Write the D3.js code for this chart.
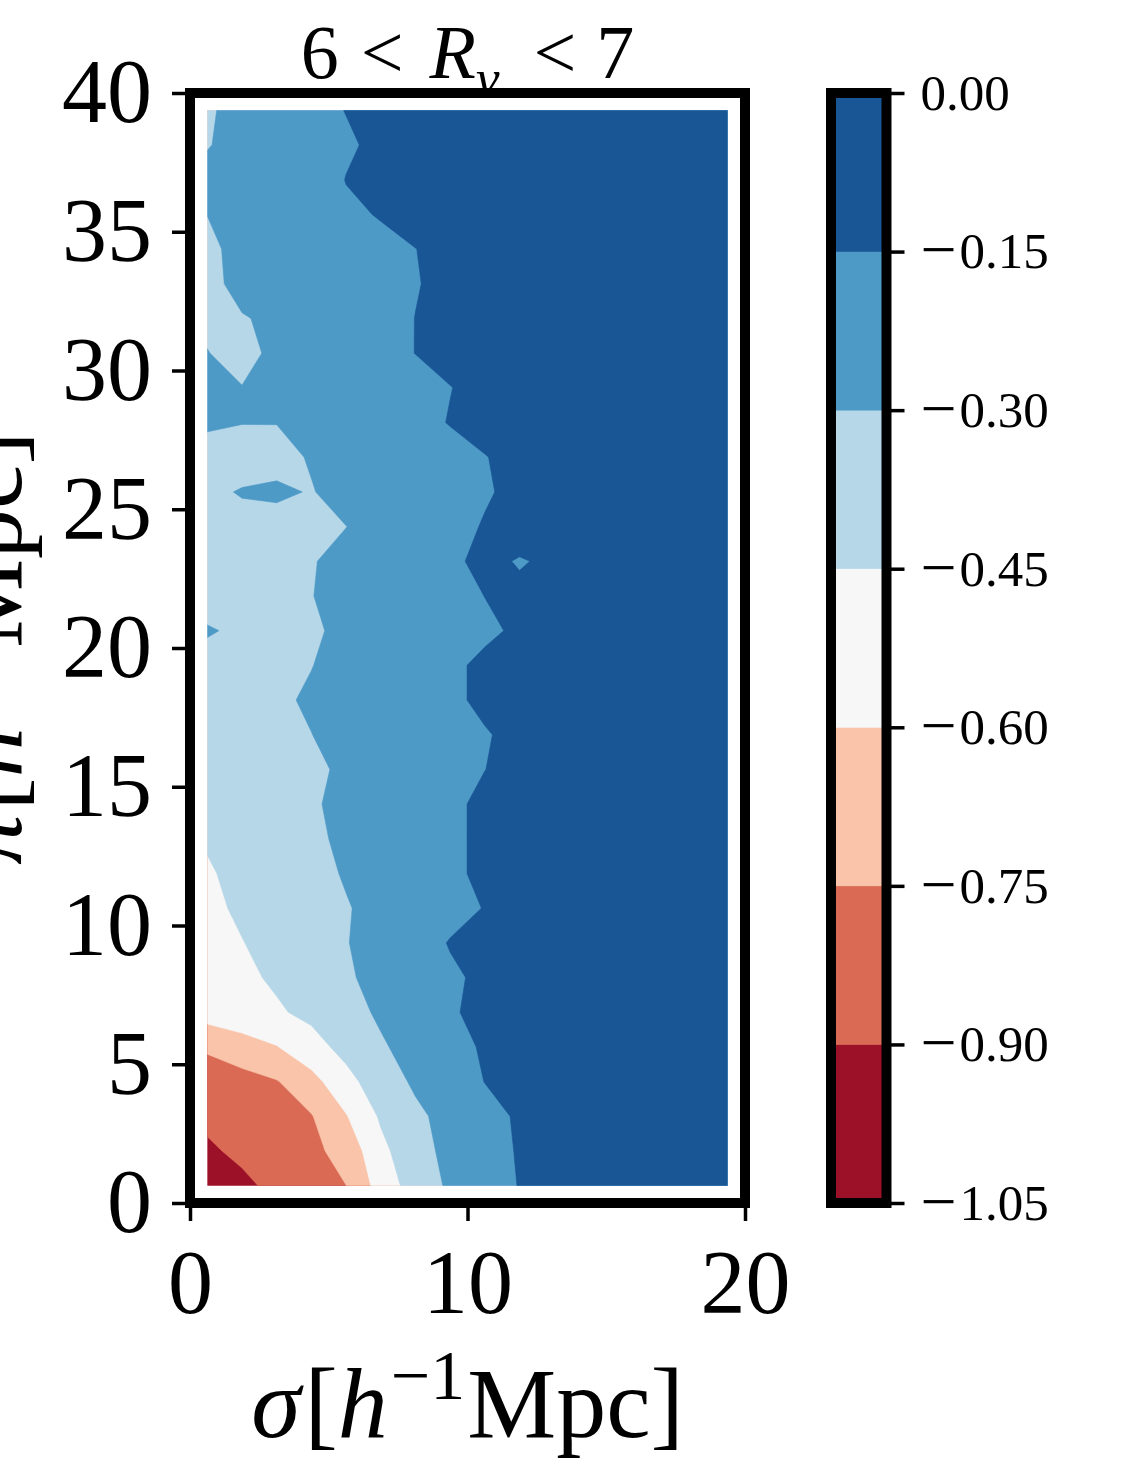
<!DOCTYPE html>
<html>
<head>
<meta charset="utf-8">
<script src="https://cdn.jsdelivr.net/npm/d3@7"></script>
<style>
  html, body { margin: 0; padding: 0; background: #ffffff; }
  svg { display: block; }
  text { font-family: "Liberation Serif", "DejaVu Serif", serif; fill: #000; }
</style>
</head>
<body>
<svg id="chart" width="1122" height="1461"></svg>
<script>
// Bin centres of the (sigma, pi) grid, in h^-1 Mpc
const sigmaCentres = [0.625, 1.875, 3.125, 4.375, 5.625, 6.875, 8.125, 9.375,
                      10.625, 11.875, 13.125, 14.375, 15.625, 16.875, 18.125, 19.375];
const piCentres = [0.625, 1.875, 3.125, 4.375, 5.625, 6.875, 8.125, 9.375,
                   10.625, 11.875, 13.125, 14.375, 15.625, 16.875, 18.125, 19.375,
                   20.625, 21.875, 23.125, 24.375, 25.625, 26.875, 28.125, 29.375,
                   30.625, 31.875, 33.125, 34.375, 35.625, 36.875, 38.125, 39.375];

// Filled-contour levels and tick values
const levels = [-1.05, -0.90, -0.75, -0.60, -0.45, -0.30, -0.15, 0.00];
const xTicks = [0, 10, 20];
const yTicks = [0, 5, 10, 15, 20, 25, 30, 35, 40];

// Profile values, one row per pi bin (bottom to top), one entry per sigma bin
const xiRows = [
  [-0.990,-0.927,-0.868,-0.809,-0.751,-0.539,-0.382,-0.278,-0.212,-0.145,-0.120,-0.100,-0.080,-0.060,-0.050,-0.040],
  [-0.919,-0.874,-0.829,-0.784,-0.698,-0.488,-0.351,-0.263,-0.200,-0.140,-0.115,-0.095,-0.075,-0.060,-0.050,-0.040],
  [-0.873,-0.835,-0.797,-0.758,-0.609,-0.432,-0.328,-0.254,-0.190,-0.135,-0.110,-0.090,-0.070,-0.055,-0.045,-0.035],
  [-0.848,-0.803,-0.758,-0.650,-0.496,-0.371,-0.279,-0.215,-0.148,-0.125,-0.105,-0.085,-0.070,-0.055,-0.045,-0.035],
  [-0.724,-0.665,-0.606,-0.504,-0.405,-0.315,-0.252,-0.195,-0.135,-0.115,-0.095,-0.080,-0.065,-0.050,-0.040,-0.030],
  [-0.536,-0.502,-0.467,-0.416,-0.347,-0.281,-0.221,-0.160,-0.125,-0.105,-0.090,-0.075,-0.060,-0.050,-0.040,-0.030],
  [-0.520,-0.478,-0.430,-0.372,-0.315,-0.264,-0.215,-0.166,-0.130,-0.110,-0.095,-0.080,-0.065,-0.050,-0.040,-0.030],
  [-0.500,-0.454,-0.405,-0.355,-0.305,-0.252,-0.198,-0.144,-0.120,-0.100,-0.085,-0.070,-0.060,-0.050,-0.040,-0.030],
  [-0.480,-0.429,-0.388,-0.348,-0.307,-0.267,-0.226,-0.186,-0.146,-0.120,-0.100,-0.085,-0.070,-0.055,-0.045,-0.035],
  [-0.461,-0.421,-0.377,-0.334,-0.291,-0.250,-0.210,-0.169,-0.130,-0.110,-0.095,-0.080,-0.065,-0.055,-0.045,-0.035],
  [-0.440,-0.400,-0.360,-0.319,-0.281,-0.243,-0.206,-0.169,-0.130,-0.110,-0.095,-0.080,-0.065,-0.055,-0.045,-0.035],
  [-0.420,-0.384,-0.347,-0.311,-0.275,-0.240,-0.204,-0.169,-0.130,-0.110,-0.095,-0.080,-0.065,-0.055,-0.045,-0.035],
  [-0.400,-0.372,-0.344,-0.316,-0.286,-0.252,-0.218,-0.185,-0.151,-0.120,-0.100,-0.085,-0.070,-0.055,-0.045,-0.035],
  [-0.380,-0.354,-0.327,-0.301,-0.272,-0.243,-0.215,-0.186,-0.157,-0.125,-0.105,-0.090,-0.075,-0.060,-0.045,-0.035],
  [-0.360,-0.337,-0.314,-0.289,-0.259,-0.229,-0.199,-0.169,-0.130,-0.110,-0.095,-0.080,-0.065,-0.050,-0.040,-0.030],
  [-0.340,-0.327,-0.315,-0.302,-0.271,-0.237,-0.203,-0.169,-0.130,-0.110,-0.095,-0.080,-0.065,-0.050,-0.040,-0.030],
  [-0.290,-0.320,-0.320,-0.310,-0.284,-0.255,-0.226,-0.197,-0.168,-0.135,-0.115,-0.095,-0.080,-0.065,-0.050,-0.040],
  [-0.350,-0.334,-0.318,-0.302,-0.274,-0.245,-0.216,-0.187,-0.149,-0.136,-0.105,-0.090,-0.075,-0.060,-0.045,-0.035],
  [-0.350,-0.335,-0.320,-0.305,-0.276,-0.238,-0.200,-0.163,-0.133,-0.155,-0.138,-0.110,-0.090,-0.070,-0.055,-0.045],
  [-0.360,-0.345,-0.331,-0.316,-0.301,-0.263,-0.223,-0.183,-0.143,-0.117,-0.100,-0.085,-0.070,-0.055,-0.045,-0.035],
  [-0.330,-0.290,-0.286,-0.305,-0.265,-0.246,-0.217,-0.188,-0.160,-0.125,-0.105,-0.090,-0.075,-0.060,-0.045,-0.035],
  [-0.330,-0.370,-0.330,-0.292,-0.266,-0.238,-0.209,-0.181,-0.153,-0.125,-0.105,-0.090,-0.075,-0.060,-0.045,-0.035],
  [-0.289,-0.296,-0.298,-0.268,-0.237,-0.207,-0.177,-0.146,-0.120,-0.100,-0.085,-0.070,-0.060,-0.050,-0.040,-0.030],
  [-0.280,-0.295,-0.285,-0.258,-0.232,-0.205,-0.178,-0.152,-0.125,-0.105,-0.090,-0.075,-0.060,-0.050,-0.040,-0.030],
  [-0.295,-0.361,-0.254,-0.228,-0.202,-0.176,-0.149,-0.125,-0.105,-0.090,-0.075,-0.065,-0.055,-0.045,-0.035,-0.030],
  [-0.335,-0.308,-0.277,-0.245,-0.213,-0.181,-0.149,-0.125,-0.105,-0.090,-0.075,-0.065,-0.055,-0.045,-0.035,-0.030],
  [-0.338,-0.260,-0.239,-0.218,-0.197,-0.175,-0.154,-0.130,-0.110,-0.095,-0.080,-0.065,-0.055,-0.045,-0.035,-0.030],
  [-0.321,-0.270,-0.246,-0.222,-0.198,-0.174,-0.151,-0.125,-0.105,-0.090,-0.075,-0.065,-0.055,-0.045,-0.035,-0.030],
  [-0.299,-0.268,-0.236,-0.205,-0.168,-0.144,-0.120,-0.100,-0.090,-0.075,-0.065,-0.055,-0.045,-0.040,-0.035,-0.030],
  [-0.272,-0.250,-0.235,-0.217,-0.147,-0.148,-0.105,-0.090,-0.080,-0.070,-0.060,-0.050,-0.045,-0.040,-0.035,-0.030],
  [-0.305,-0.268,-0.234,-0.200,-0.166,-0.124,-0.105,-0.090,-0.080,-0.070,-0.060,-0.050,-0.045,-0.040,-0.035,-0.030],
  [-0.310,-0.273,-0.231,-0.189,-0.147,-0.125,-0.110,-0.095,-0.085,-0.075,-0.065,-0.055,-0.045,-0.040,-0.035,-0.030]
];

// RdBu band colours, lowest band first
const bandColours = ["#9d1128", "#da6a54", "#f9c4a9", "#f7f7f7", "#b6d7e8", "#4e9ac7", "#195696"];

const svg = d3.select("#chart");
const plot = { left: 190, right: 745, top: 93, bottom: 1203 };
const cbar = { left: 831, right: 886.5 };

const x = d3.scaleLinear().domain([0, 20]).range([plot.left, plot.right]);
const y = d3.scaleLinear().domain([0, 40]).range([plot.bottom, plot.top]);

// ---- filled contours ----
const nx = sigmaCentres.length, ny = piCentres.length;
const values = xiRows.flat();
const contourGen = d3.contours().size([nx, ny]).thresholds(levels.slice(0, -1));
const bands = contourGen(values);

// contour grid coordinates -> data coordinates (cell centres sit at i + 0.5)
const gx = d3.scaleLinear().domain([0.5, nx - 0.5]).range([sigmaCentres[0], sigmaCentres[nx - 1]]);
const gy = d3.scaleLinear().domain([0.5, ny - 0.5]).range([piCentres[0], piCentres[ny - 1]]);
const toScreen = d3.geoTransform({
  point(px, py) { this.stream.point(x(gx(px)), y(gy(py))); }
});
const path = d3.geoPath(toScreen);

svg.append("defs").append("clipPath").attr("id", "hull")
  .append("rect")
  .attr("x", x(sigmaCentres[0]))
  .attr("y", y(piCentres[ny - 1]))
  .attr("width", x(sigmaCentres[nx - 1]) - x(sigmaCentres[0]))
  .attr("height", y(piCentres[0]) - y(piCentres[ny - 1]));

svg.append("g").attr("clip-path", "url(#hull)")
  .selectAll("path").data(bands).join("path")
  .attr("d", path)
  .attr("fill", (d, i) => bandColours[i])
  .attr("stroke", (d, i) => bandColours[i])
  .attr("stroke-width", 0.6);

// ---- axes ----
const tickFont = 90;
const xAxis = svg.append("g").attr("transform", `translate(0,${plot.bottom})`)
  .call(d3.axisBottom(x).tickValues(xTicks).tickSize(18).tickPadding(28).tickFormat(d3.format("d")));
const yAxis = svg.append("g").attr("transform", `translate(${plot.left},0)`)
  .call(d3.axisLeft(y).tickValues(yTicks).tickSize(18).tickPadding(20).tickFormat(d3.format("d")));
[xAxis, yAxis].forEach(g => {
  g.select(".domain").remove();
  g.selectAll(".tick line").attr("stroke", "#000").attr("stroke-width", 3.5);
  g.selectAll(".tick text").attr("font-size", tickFont)
    .attr("font-family", "'Liberation Serif', serif").attr("fill", "#000");
});

// ---- title ----
const title = svg.append("text")
  .attr("x", (plot.left + plot.right) / 2).attr("y", 78)
  .attr("text-anchor", "middle").attr("font-size", 76);
title.append("tspan").text("6");
title.append("tspan").attr("dx", 22).text("<");
title.append("tspan").attr("dx", 26).attr("font-style", "italic").text("R");
title.append("tspan").attr("font-style", "italic").attr("font-size", 53).attr("dy", 18).text("v");
title.append("tspan").attr("dx", 34).attr("dy", -18).text("<");
title.append("tspan").attr("dx", 20).text("7");

// ---- axis labels ----
function unitLabel(sel, symbol) {
  sel.append("tspan").attr("font-style", "italic").text(symbol);
  sel.append("tspan").attr("dx", 4).text("[");
  sel.append("tspan").attr("font-style", "italic").text("h");
  sel.append("tspan").attr("font-size", 70).attr("dy", -38).attr("dx", 3).text("\u22121");
  sel.append("tspan").attr("dy", 38).attr("dx", 2).text("Mpc");
  sel.append("tspan").text("]");
}
const xLabel = svg.append("text")
  .attr("x", (plot.left + plot.right) / 2).attr("y", 1437)
  .attr("text-anchor", "middle").attr("font-size", 100);
unitLabel(xLabel, "\u03c3");

const yLabel = svg.append("text")
  .attr("transform", `translate(21,${(plot.top + plot.bottom) / 2}) rotate(-90)`)
  .attr("text-anchor", "middle").attr("font-size", 100);
unitLabel(yLabel, "\u03c0");

// ---- frame ----
svg.append("rect")
  .attr("x", plot.left).attr("y", plot.top)
  .attr("width", plot.right - plot.left).attr("height", plot.bottom - plot.top)
  .attr("fill", "none").attr("stroke", "#000").attr("stroke-width", 10);

// ---- colour bar ----
const yc = d3.scaleLinear().domain([levels[0], levels[levels.length - 1]]).range([plot.bottom, plot.top]);
svg.append("g").selectAll("rect").data(bandColours).join("rect")
  .attr("x", cbar.left).attr("width", cbar.right - cbar.left)
  .attr("y", (c, i) => yc(levels[i + 1]))
  .attr("height", (c, i) => yc(levels[i]) - yc(levels[i + 1]))
  .attr("fill", c => c).attr("stroke", c => c).attr("stroke-width", 0.6);

const cbarFont = 51;
const fmt = d3.format(".2f");
const cAxis = svg.append("g").attr("transform", `translate(${cbar.right},0)`)
  .call(d3.axisRight(yc).tickValues(levels).tickSize(18).tickPadding(16).tickFormat(fmt));
cAxis.select(".domain").remove();
cAxis.selectAll(".tick line").attr("stroke", "#000").attr("stroke-width", 3.5);
cAxis.selectAll(".tick text")
  .attr("font-size", cbarFont)
  .attr("font-family", "'Liberation Serif', serif").attr("fill", "#000")
  .each(function (d) {
    const t = d3.select(this);
    const s = fmt(d);
    if (!s.startsWith("\u2212")) return;
    // wider minus sign, kept at the digits' mid-height
    const shift = 0.32 * cbarFont;
    t.text(null).attr("dy", null);
    t.append("tspan").attr("font-size", 64).attr("dy", shift + 3).text("\u2212");
    t.append("tspan").attr("dx", 3).attr("dy", -3).text(s.slice(1));
  });

svg.append("rect")
  .attr("x", cbar.left).attr("y", plot.top)
  .attr("width", cbar.right - cbar.left).attr("height", plot.bottom - plot.top)
  .attr("fill", "none").attr("stroke", "#000").attr("stroke-width", 10);
</script>
</body>
</html>
